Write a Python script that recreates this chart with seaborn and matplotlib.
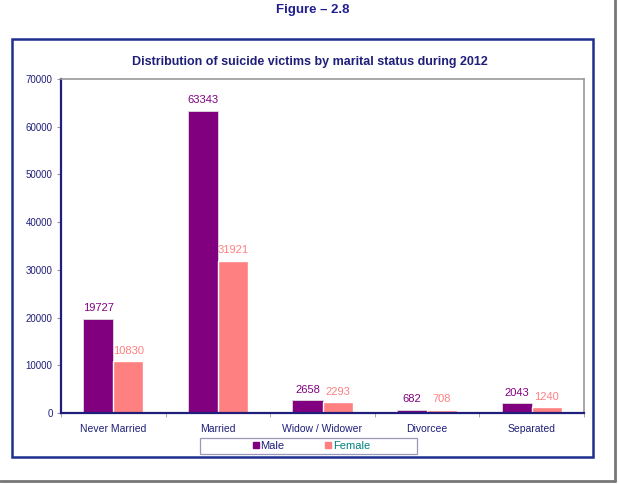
import numpy as np
import pandas as pd
import matplotlib
matplotlib.use("Agg")
import matplotlib.pyplot as plt
from matplotlib.patches import Rectangle
from matplotlib.lines import Line2D
import seaborn as sns

# data
statuses = ['Never Married', 'Married', 'Widow / Widower', 'Divorcee', 'Separated']
male = [19727, 63343, 2658, 682, 2043]
female = [10830, 31921, 2293, 708, 1240]

df = pd.DataFrame({
    'Status': statuses * 2,
    'Sex': ['Male'] * len(statuses) + ['Female'] * len(statuses),
    'Victims': male + female,
})

sns.set_style('white')
plt.rcParams['font.family'] = ['Liberation Sans', 'DejaVu Sans']

navy = '#1F1F7A'
colors = {'Male': '#800080', 'Female': '#FF8080'}

fig = plt.figure(figsize=(6.19, 4.84), dpi=100)
ax = fig.add_axes([61 / 619, 1 - 413 / 484, (584 - 61) / 619, (413 - 79) / 484])

sns.barplot(data=df, x='Status', y='Victims', hue='Sex', palette=colors,
            width=0.575, saturation=1, ax=ax, legend=False)

# male bars have a thin light edge
for p in ax.containers[0]:
    p.set_edgecolor('#DDDDDD')
    p.set_linewidth(0.6)

ax.bar_label(ax.containers[0], labels=[str(v) for v in male], padding=4,
             fontsize=8, color='#800080')
ax.bar_label(ax.containers[1], labels=[str(v) for v in female], padding=4,
             fontsize=8, color='#FF8080')

ax.set_ylim(0, 70000)
ax.set_xlim(-0.5, 4.5)
ax.set_yticks(range(0, 70001, 10000))
ax.set_yticklabels([str(v) for v in range(0, 70001, 10000)], fontsize=7, color=navy)
ax.tick_params(axis='y', left=True, length=3, color='#999999', pad=3)
ax.tick_params(axis='x', length=0, labelsize=7.5, labelcolor=navy, pad=8)
ax.set_xticks(np.arange(-0.5, 5, 1), minor=True)
ax.tick_params(axis='x', which='minor', bottom=True, length=3, color='#999999')
ax.set_xlabel('')
ax.set_ylabel('')

ax.spines['left'].set_color(navy)
ax.spines['left'].set_linewidth(1.6)
ax.spines['bottom'].set_color(navy)
ax.spines['bottom'].set_linewidth(1.6)
ax.spines['top'].set_color('#999999')
ax.spines['top'].set_linewidth(1.2)
ax.spines['right'].set_color('#999999')
ax.spines['right'].set_linewidth(1.2)

# legend at the bottom, its box drawn separately (wider than the entries)
handles = [Line2D([], [], marker='s', linestyle='none', markersize=4.5,
                  markerfacecolor=colors[k], markeredgecolor=colors[k]) for k in ['Male', 'Female']]
leg = fig.legend(handles, ['Male', 'Female'], loc='center', ncol=2,
                 bbox_to_anchor=(311 / 619, 1 - 446 / 484), fontsize=8,
                 frameon=False, handletextpad=0.05, columnspacing=3.6,
                 borderpad=0.2, handlelength=0.7)
leg.get_texts()[0].set_color(navy)
leg.get_texts()[1].set_color('#008080')
fig.patches.append(Rectangle((200 / 619, 1 - 454 / 484), 217 / 619, 16 / 484,
                             transform=fig.transFigure, fill=False, edgecolor='#9999BB',
                             linewidth=0.9))

# titles
fig.text(313 / 619, 1 - 10 / 484, 'Figure \u2013 2.8', ha='center', va='center',
         fontsize=9.5, fontweight='bold', color='#1F1F8F')
fig.text(310 / 619, 1 - 62 / 484, 'Distribution of suicide victims by marital status during 2012',
         ha='center', va='center', fontsize=9, fontweight='bold', color=navy)

# navy frame round the chart
fig.patches.append(Rectangle((12 / 619, 1 - 457 / 484), (593 - 12) / 619, (457 - 39) / 484,
                             transform=fig.transFigure, fill=False, edgecolor='#1F2F8F',
                             linewidth=1.8))
# outer page frame with shadow on the right and bottom
fig.lines.append(Line2D([615 / 619, 615 / 619], [1 - 481 / 484, 1], transform=fig.transFigure,
                        color='#777777', linewidth=2))
fig.lines.append(Line2D([0, 615 / 619], [1 - 481 / 484, 1 - 481 / 484], transform=fig.transFigure,
                        color='#777777', linewidth=2))

fig.savefig('out.png', dpi=100)
